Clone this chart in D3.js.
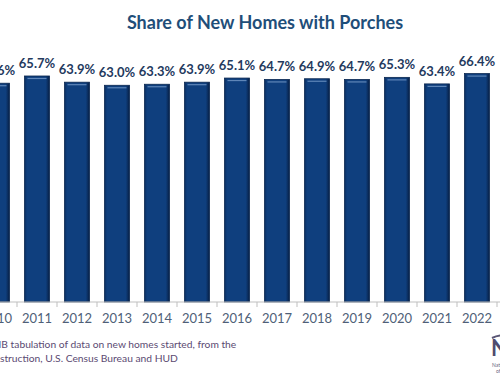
<!DOCTYPE html>
<html lang="en">
<head>
<meta charset="UTF-8">
<title>Share of New Homes with Porches</title>
<script src="https://d3js.org/d3.v7.min.js"></script>
<style>
  body { margin: 0; background: #fff; }
  svg { display: block; font-family: Lato, "Open Sans", sans-serif; }
</style>
</head>
<body>
<svg id="chart" width="500" height="383"></svg>
<script>
// data
var years = ["2010", "2011", "2012", "2013", "2014", "2015", "2016",
             "2017", "2018", "2019", "2020", "2021", "2022"];
var shares = [63.6, 65.7, 63.9, 63.0, 63.3, 63.9, 65.1,
              64.7, 64.9, 64.7, 65.3, 63.4, 66.4];
var title = "Share of New Homes with Porches";
// source note, split where the left edge of the picture cuts it
var sourceHidden = ["Source: NAHB ", "Survey of Con"];
var sourceShown = ["tabulation of data on new homes started, from the",
                   "struction,  U.S. Census Bureau and HUD"];

var svg = d3.select("#chart");

// gradient for the bevelled bars
var defs = svg.append("defs");
var grad = defs.append("linearGradient").attr("id", "barfill")
  .attr("x1", 0).attr("x2", 1).attr("y1", 0).attr("y2", 0);
grad.append("stop").attr("offset", "0%").attr("stop-color", "#0a2d5e");
grad.append("stop").attr("offset", "10%").attr("stop-color", "#0f3f7e");
grad.append("stop").attr("offset", "85%").attr("stop-color", "#0f3f7e");
grad.append("stop").attr("offset", "100%").attr("stop-color", "#071f45");

var baseY = 302;
var x = d3.scaleBand()
  .domain(years)
  .range([-23, -23 + years.length * 40])
  .paddingInner(0.375)
  .paddingOuter(0.1875);

var y = d3.scaleLinear().domain([0, 70]).range([baseY, baseY - 70 * 3.44]);

// title
svg.append("text")
  .attr("x", 265).attr("y", 29)
  .attr("text-anchor", "middle")
  .attr("font-size", 18).attr("font-weight", "bold")
  .attr("fill", "#1f4e79")
  .text(title);

// bars
var bars = svg.append("g");
bars.selectAll("rect.bar")
  .data(years)
  .enter()
  .append("rect")
  .attr("class", "bar")
  .attr("x", function(d) { return x(d); })
  .attr("y", function(d, i) { return y(shares[i]); })
  .attr("width", x.bandwidth())
  .attr("height", function(d, i) { return baseY - y(shares[i]); })
  .attr("fill", "url(#barfill)")
  .attr("stroke", "#0a2750")
  .attr("stroke-width", 0.8);

// thin highlight along the bar tops
bars.selectAll("line.hl")
  .data(years)
  .enter()
  .append("line")
  .attr("class", "hl")
  .attr("x1", function(d) { return x(d) + 3; })
  .attr("x2", function(d) { return x(d) + x.bandwidth() - 3; })
  .attr("y1", function(d, i) { return y(shares[i]) + 2.5; })
  .attr("y2", function(d, i) { return y(shares[i]) + 2.5; })
  .attr("stroke", "#5f86b8")
  .attr("stroke-width", 1.2);

// value labels
svg.append("g").selectAll("text")
  .data(years)
  .enter()
  .append("text")
  .attr("x", function(d) { return x(d) + x.bandwidth() / 2; })
  .attr("y", function(d, i) { return y(shares[i]) - 8; })
  .attr("text-anchor", "middle")
  .attr("font-size", 13).attr("font-weight", "bold")
  .attr("fill", "#243a5e")
  .text(function(d, i) { return shares[i].toFixed(1) + "%"; });

// x axis
var axis = svg.append("g").attr("transform", "translate(0," + baseY + ")");
axis.append("line")
  .attr("x1", 0).attr("x2", 500)
  .attr("stroke", "#bfbfbf").attr("stroke-width", 1);
axis.selectAll("line.tick")
  .data(years)
  .enter()
  .append("line")
  .attr("class", "tick")
  .attr("x1", function(d) { return x(d) + x.bandwidth() + (x.step() - x.bandwidth()) / 2; })
  .attr("x2", function(d) { return x(d) + x.bandwidth() + (x.step() - x.bandwidth()) / 2; })
  .attr("y1", 0).attr("y2", 5)
  .attr("stroke", "#bfbfbf");
axis.selectAll("text")
  .data(years)
  .enter()
  .append("text")
  .attr("x", function(d) { return x(d) + x.bandwidth() / 2; })
  .attr("y", 21)
  .attr("text-anchor", "middle")
  .attr("font-size", 13)
  .attr("fill", "#4f5f78")
  .text(function(d) { return d; });

// source note: the visible part starts at shownX and ends at endX
var shownX = [8, 0];
var endX = [234, 178];
sourceShown.forEach(function(s, i) {
  var t = svg.append("text")
    .attr("y", 348 + i * 14)
    .attr("font-size", 12)
    .attr("fill", "#5b4a72");
  var probe = t.text(s);
  var w = probe.node().getComputedTextLength();
  var fs = 12 * (endX[i] - shownX[i]) / w;
  t.attr("font-size", fs).text(sourceHidden[i]);
  var hw = t.node().getComputedTextLength();
  t.attr("x", shownX[i] - hw).text(sourceHidden[i] + s);
});

// partial NAHB logo at the right edge
svg.append("path")
  .attr("d", "M492,338 Q500,334 508,336")
  .attr("fill", "none").attr("stroke", "#5a5675").attr("stroke-width", 2);
svg.append("text")
  .attr("x", 491).attr("y", 356)
  .attr("font-size", 22).attr("font-weight", "bold")
  .attr("fill", "#4f4b6e")
  .text("NAHB");
svg.append("text")
  .attr("x", 492).attr("y", 367)
  .attr("font-size", 5).attr("fill", "#6a6680")
  .text("National Association");
svg.append("text")
  .attr("x", 496).attr("y", 373)
  .attr("font-size", 5).attr("fill", "#6a6680")
  .text("of Home Builders");
</script>
</body>
</html>
